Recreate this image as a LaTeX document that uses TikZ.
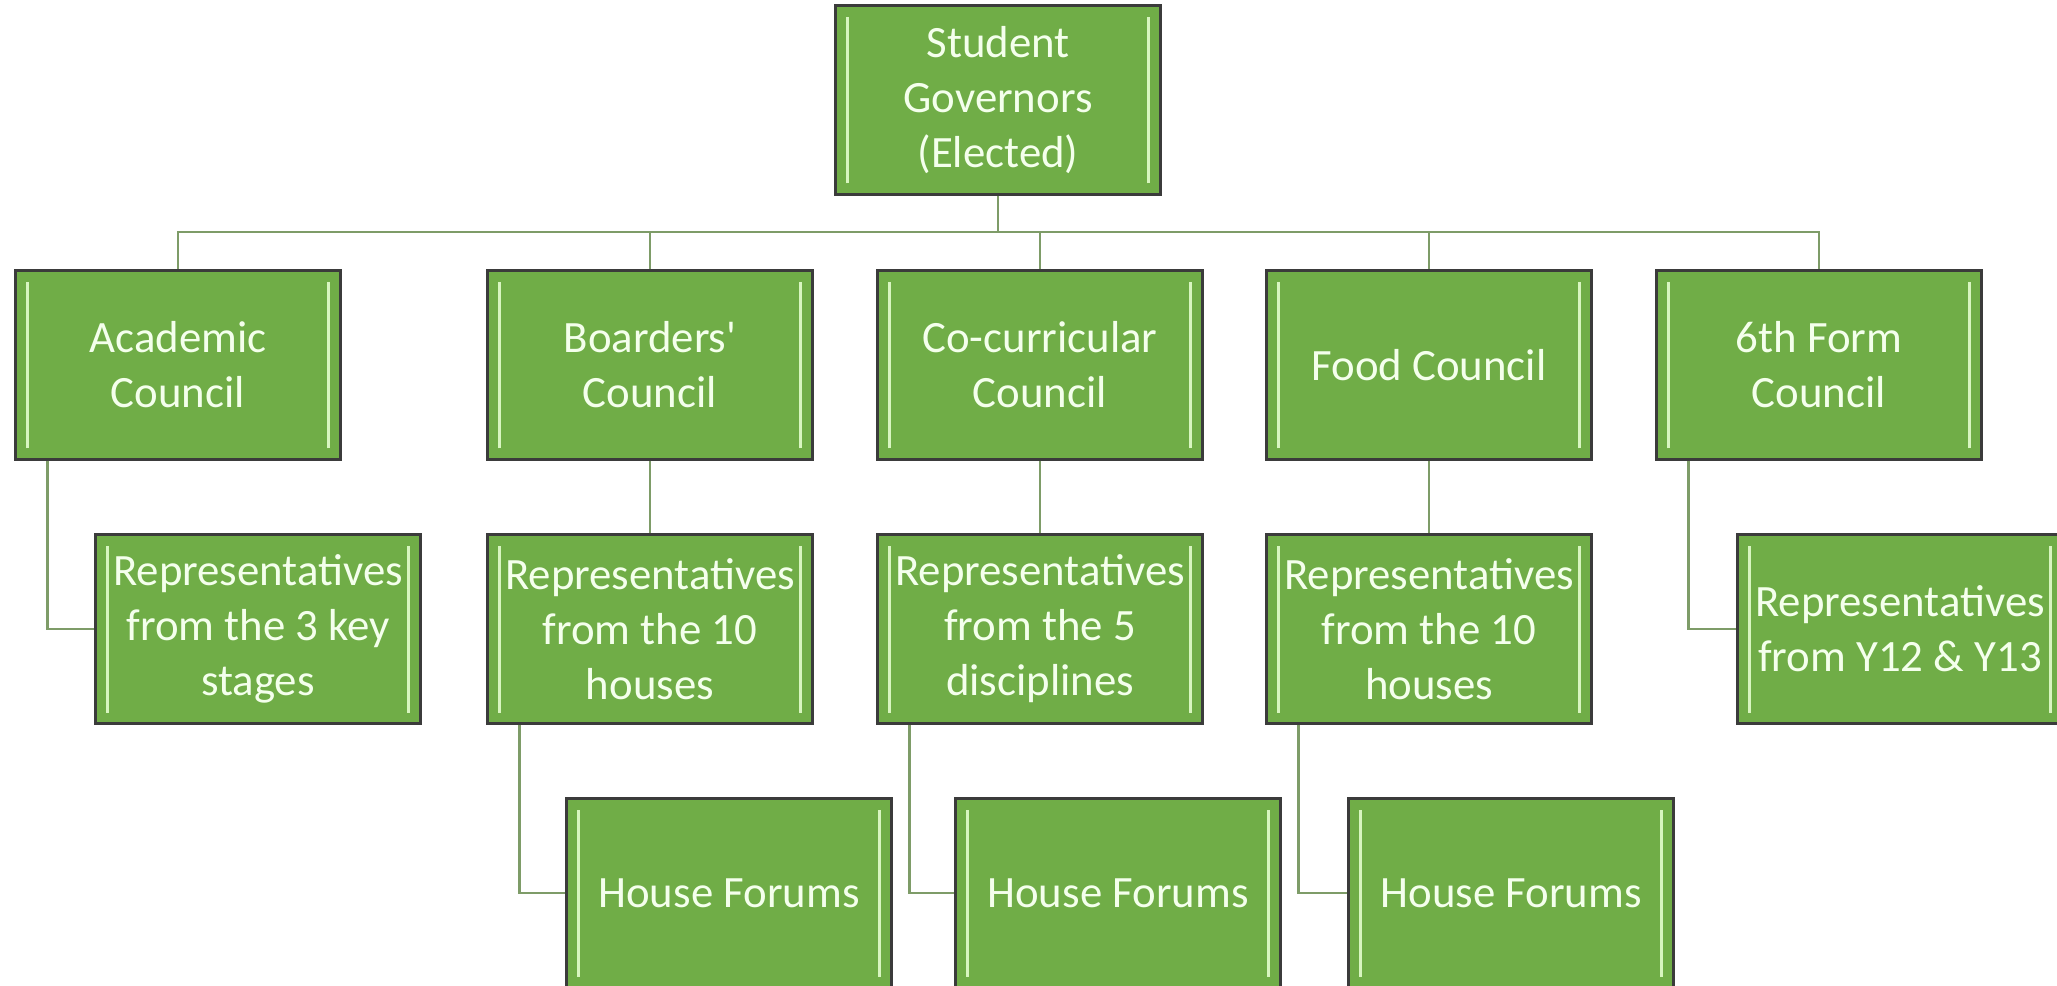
\documentclass[tikz,border=0pt]{standalone}
\usepackage{fontspec}
\setmainfont{Carlito}
\definecolor{boxgreen}{HTML}{70AD47}
\definecolor{barlight}{HTML}{D8F5C0}
\definecolor{linkgreen}{HTML}{7E9C68}
\definecolor{edgegrey}{HTML}{3B3B3B}
\definecolor{paletext}{HTML}{F4FFEC}
\begin{document}
\begin{tikzpicture}[x=0.02cm,y=-0.02cm,
  unit/.style={rectangle,draw=edgegrey,line width=0.05cm,fill=boxgreen,
    minimum width=6.5cm,minimum height=3.78cm,inner sep=0pt,align=center,
    text=paletext,font=\fontsize{25.5}{31.3}\selectfont,
    path picture={
      \draw[barlight,line width=0.06cm] ([xshift=0.24cm,yshift=0.22cm]path picture bounding box.south west) -- ([xshift=0.24cm,yshift=-0.22cm]path picture bounding box.north west);
      \draw[barlight,line width=0.06cm] ([xshift=-0.24cm,yshift=0.22cm]path picture bounding box.south east) -- ([xshift=-0.24cm,yshift=-0.22cm]path picture bounding box.north east);
    }},
  link/.style={draw=linkgreen,line width=0.05cm}]
\useasboundingbox (0,0) rectangle (2057,985);
\clip (0,0) rectangle (2057,985);
\node[unit] (gov) at (998,100) {Student\\Governors\\(Elected)};
\node[unit] (acad) at (178,365) {Academic\\Council};
\node[unit] (board) at (650,365) {Boarders\textquotesingle\\Council};
\node[unit] (cocur) at (1040,365) {Co-curricular\\Council};
\node[unit] (food) at (1429,365) {Food Council};
\node[unit] (sixth) at (1819,365) {6th Form\\Council};
\node[unit] (rep1) at (258,629) {Representatives\\from the 3 key\\stages};
\node[unit] (rep2) at (650,629) {Representatives\\from the 10\\houses};
\node[unit] (rep3) at (1040,629) {Representatives\\from the 5\\disciplines};
\node[unit] (rep4) at (1429,629) {Representatives\\from the 10\\houses};
\node[unit] (rep5) at (1900,629) {Representatives\\from Y12 \& Y13};
\node[unit] (hf1) at (729,893) {House Forums};
\node[unit] (hf2) at (1118,893) {House Forums};
\node[unit] (hf3) at (1511,893) {House Forums};
\coordinate (bus) at (998,232);
\draw[link] (gov.south) -- (bus);
\foreach \n in {acad,board,cocur,food,sixth}
  \draw[link] (bus) -| (\n.north);
\draw[link] (board) -- (rep2);
\draw[link] (cocur) -- (rep3);
\draw[link] (food) -- (rep4);
\draw[link] ([xshift=0.66cm]acad.south west) |- (rep1.west);
\draw[link] ([xshift=0.66cm]sixth.south west) |- (rep5.west);
\draw[link] ([xshift=0.66cm]rep2.south west) |- (hf1.west);
\draw[link] ([xshift=0.66cm]rep3.south west) |- (hf2.west);
\draw[link] ([xshift=0.66cm]rep4.south west) |- (hf3.west);
\end{tikzpicture}
\end{document}
